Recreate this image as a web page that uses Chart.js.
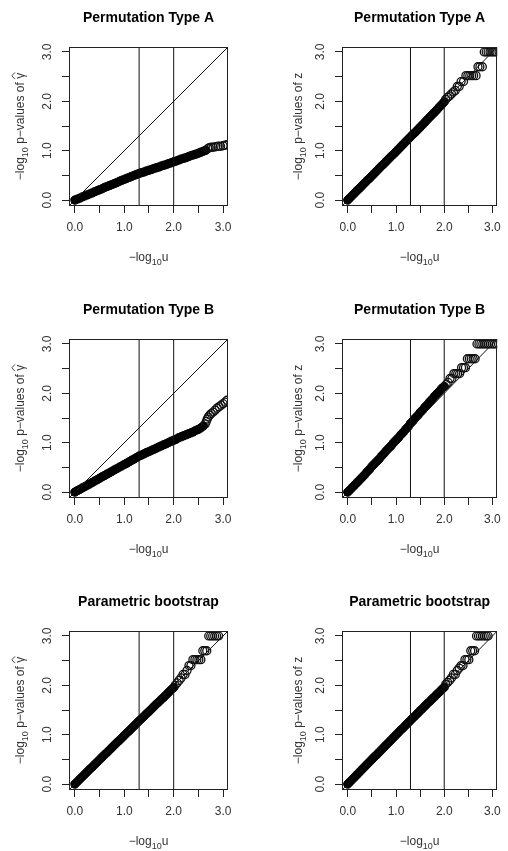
<!DOCTYPE html>
<html>
<head>
<meta charset="utf-8">
<script src="https://cdn.jsdelivr.net/npm/chart.js@4.4.1/dist/chart.umd.min.js"></script>
<style>
  html, body { margin: 0; padding: 0; background: #fff; overflow: hidden; }
  #wrap { position: relative; width: 508px; height: 851px; overflow: hidden; }
  .panel { position: absolute; width: 254px; height: 292px; }
</style>
</head>
<body>
<div id="wrap"></div>
<script>
// --- data ---
const tickValues = [0, 0.5, 1, 1.5, 2, 2.5, 3];
const labeledTicks = [0, 1, 2, 3];
const tickLabels = ['0.0', '1.0', '2.0', '3.0'];
const cutoffs = [1.3, 2.0];
const AX_MIN = -0.12, AX_MAX = 3.1;

// expected quantiles (-log10 u) of the dense part
const qBody = [0.00,0.05,0.10,0.15,0.20,0.25,0.30,0.35,0.40,0.45,0.50,0.55,0.60,0.65,0.70,0.75,0.80,0.85,0.90,0.95,
               1.00,1.05,1.10,1.15,1.20,1.25,1.30,1.35,1.40,1.45,1.50,1.55,1.60,1.65,1.70,1.75,1.80,1.85,1.90,1.95,2.00];

const bodyTypeAGamma = [0.00,0.02,0.04,0.065,0.085,0.105,0.125,0.145,0.17,0.19,0.21,0.23,0.255,0.275,0.295,0.315,0.335,0.355,0.38,0.40,
                        0.42,0.44,0.46,0.48,0.50,0.52,0.54,0.555,0.57,0.59,0.605,0.62,0.64,0.655,0.67,0.69,0.705,0.72,0.74,0.755,0.775];
const bodyTypeAZ = [0.00,0.05,0.10,0.15,0.20,0.245,0.295,0.345,0.395,0.44,0.49,0.54,0.59,0.64,0.69,0.735,0.785,0.835,0.885,0.93,
                    0.98,1.03,1.08,1.13,1.18,1.23,1.28,1.33,1.375,1.425,1.475,1.525,1.575,1.63,1.68,1.73,1.78,1.83,1.885,1.935,1.99];
const bodyTypeBGamma = [0.00,0.03,0.055,0.085,0.11,0.14,0.165,0.195,0.225,0.25,0.28,0.31,0.335,0.365,0.39,0.42,0.45,0.475,0.505,0.53,
                        0.56,0.585,0.615,0.645,0.67,0.70,0.73,0.75,0.775,0.80,0.82,0.845,0.865,0.89,0.915,0.935,0.96,0.98,1.005,1.03,1.05];
const bodyTypeBZ = [0.00,0.05,0.10,0.15,0.20,0.25,0.30,0.35,0.41,0.46,0.52,0.57,0.62,0.67,0.73,0.78,0.84,0.89,0.94,1.00,
                    1.05,1.10,1.16,1.21,1.27,1.32,1.39,1.44,1.50,1.55,1.61,1.66,1.72,1.77,1.83,1.88,1.94,1.99,2.04,2.10,2.14];
const bodyParamGamma = [0.00,0.05,0.10,0.15,0.20,0.25,0.30,0.345,0.395,0.445,0.495,0.545,0.595,0.64,0.69,0.74,0.79,0.84,0.885,0.935,
                        0.985,1.035,1.08,1.13,1.18,1.23,1.28,1.325,1.375,1.425,1.47,1.52,1.57,1.62,1.665,1.715,1.76,1.81,1.86,1.91,1.955];
const bodyParamZ = [0.00,0.05,0.10,0.15,0.20,0.25,0.30,0.35,0.40,0.45,0.50,0.55,0.595,0.645,0.695,0.745,0.795,0.845,0.895,0.945,
                    0.995,1.045,1.095,1.14,1.19,1.24,1.29,1.34,1.385,1.435,1.485,1.53,1.58,1.63,1.675,1.725,1.77,1.82,1.865,1.915,1.96];

// continuation of the dense band (panels where it keeps going past 2)
const upperTypeAGammaX = [2.05,2.10,2.15,2.20,2.25,2.30,2.35,2.40,2.45,2.50,2.55,2.60,2.65];
const upperTypeAGammaY = [0.79,0.81,0.83,0.845,0.86,0.88,0.90,0.915,0.93,0.95,0.97,0.99,1.01];
const upperTypeBGammaX = [2.05,2.10,2.15,2.20,2.25,2.30,2.35,2.40,2.45,2.50,2.55,2.60];
const upperTypeBGammaY = [1.07,1.10,1.12,1.14,1.16,1.18,1.20,1.22,1.25,1.27,1.30,1.34];

// sparse upper tail (open circles)
const tailTypeAGammaX = [2.69,2.72,2.76,2.80,2.85,2.90,2.95,3.00,3.04,3.08];
const tailTypeAGammaY = [1.04,1.06,1.07,1.07,1.08,1.09,1.09,1.10,1.11,1.12];
const tailTypeAZX = [2.03,2.07,2.11,2.15,2.19,2.23,2.27,2.31,2.35,2.40,2.45,2.49,2.53,2.57,2.61,2.66,2.70,2.74,2.79,2.83,2.87,2.91,2.95,2.99,3.03,3.07];
const tailTypeAZY = [2.04,2.08,2.11,2.15,2.19,2.22,2.30,2.30,2.40,2.40,2.52,2.52,2.52,2.52,2.52,2.52,2.70,2.70,2.70,3.00,3.00,3.00,3.00,3.00,3.00,3.00];
const tailTypeBGammaX = [2.64,2.66,2.68,2.70,2.73,2.76,2.80,2.84,2.88,2.92,2.96,3.00,3.04,3.08];
const tailTypeBGammaY = [1.38,1.43,1.48,1.52,1.56,1.59,1.62,1.66,1.70,1.73,1.76,1.79,1.82,1.86];
const tailTypeBZX = [2.04,2.08,2.12,2.16,2.20,2.24,2.28,2.32,2.36,2.40,2.44,2.48,2.52,2.56,2.60,2.64,2.68,2.72,2.76,2.80,2.84,2.88,2.92,2.96,3.00,3.04,3.08];
const tailTypeBZY = [2.18,2.22,2.30,2.30,2.40,2.40,2.40,2.40,2.52,2.52,2.52,2.70,2.70,2.70,2.70,2.70,3.00,3.00,3.00,3.00,3.00,3.00,3.00,3.00,3.00,3.00,3.00];
const tailParamGammaX = [2.03,2.07,2.11,2.15,2.19,2.23,2.27,2.31,2.35,2.39,2.43,2.47,2.51,2.55,2.59,2.63,2.67,2.71,2.75,2.79,2.83,2.87,2.91];
const tailParamGammaY = [2.00,2.05,2.10,2.15,2.22,2.22,2.30,2.40,2.40,2.52,2.52,2.52,2.52,2.52,2.70,2.70,2.70,3.00,3.00,3.00,3.00,3.00,3.00];
const tailParamZX = [2.03,2.07,2.11,2.15,2.19,2.23,2.27,2.31,2.35,2.39,2.43,2.47,2.51,2.55,2.59,2.63,2.67,2.71,2.75,2.79,2.83,2.87,2.91];
const tailParamZY = [2.02,2.06,2.10,2.15,2.22,2.22,2.30,2.35,2.40,2.40,2.52,2.52,2.52,2.70,2.70,2.70,3.00,3.00,3.00,3.00,3.00,3.00,3.00];

const panels = [
  { title: 'Permutation Type A', stat: 'gamma', row: 0, col: 0, body: bodyTypeAGamma, upX: upperTypeAGammaX, upY: upperTypeAGammaY, tailX: tailTypeAGammaX, tailY: tailTypeAGammaY },
  { title: 'Permutation Type A', stat: 'z',     row: 0, col: 1, body: bodyTypeAZ,     upX: [], upY: [], tailX: tailTypeAZX, tailY: tailTypeAZY },
  { title: 'Permutation Type B', stat: 'gamma', row: 1, col: 0, body: bodyTypeBGamma, upX: upperTypeBGammaX, upY: upperTypeBGammaY, tailX: tailTypeBGammaX, tailY: tailTypeBGammaY },
  { title: 'Permutation Type B', stat: 'z',     row: 1, col: 1, body: bodyTypeBZ,     upX: [], upY: [], tailX: tailTypeBZX, tailY: tailTypeBZY },
  { title: 'Parametric bootstrap', stat: 'gamma', row: 2, col: 0, body: bodyParamGamma, upX: [], upY: [], tailX: tailParamGammaX, tailY: tailParamGammaY },
  { title: 'Parametric bootstrap', stat: 'z',     row: 2, col: 1, body: bodyParamZ,     upX: [], upY: [], tailX: tailParamZX, tailY: tailParamZY }
];

// --- layout ---
const W = 254, H = 292;
const FONT = '"Liberation Sans", Arial, Helvetica, sans-serif';
const boxLeft = [69, 88], boxTop = 47, boxBottom = 206;
const yTitleX = [20, 44];
Chart.defaults.font.family = FONT;

function drawRich(ctx, parts, cx, cy, angle, size, color) {
  ctx.save();
  ctx.translate(cx, cy);
  ctx.rotate(angle);
  ctx.fillStyle = color;
  ctx.strokeStyle = color;
  ctx.textBaseline = 'alphabetic';
  ctx.textAlign = 'left';
  const main = size + 'px ' + FONT;
  const sub = (size * 0.75).toFixed(1) + 'px ' + FONT;
  let total = 0;
  const widths = parts.map(p => { ctx.font = p.sub ? sub : main; const w = ctx.measureText(p.t).width; total += w; return w; });
  let x = -total / 2;
  const base = size * 0.36;
  parts.forEach((p, i) => {
    ctx.font = p.sub ? sub : main;
    ctx.fillText(p.t, x, p.sub ? base + size * 0.28 : base);
    if (p.hat) {
      const mx = x + widths[i] / 2;
      ctx.lineWidth = 0.9;
      ctx.beginPath();
      ctx.moveTo(mx - 3.4, base - size * 0.78);
      ctx.lineTo(mx, base - size * 1.04);
      ctx.lineTo(mx + 3.4, base - size * 0.78);
      ctx.stroke();
    }
    x += widths[i];
  });
  ctx.restore();
}

const decor = {
  id: 'decor',
  afterDraw(chart, args, opts) {
    const { ctx, chartArea: a, scales } = chart;
    const p = opts.panel;
    ctx.save();
    // box
    ctx.strokeStyle = '#222';
    ctx.lineWidth = 1;
    ctx.strokeRect(Math.round(a.left) + 0.5, Math.round(a.top) + 0.5, Math.round(a.right - a.left) - 1, Math.round(a.bottom - a.top) - 1);
    // title
    const cx = (a.left + a.right) / 2;
    ctx.fillStyle = '#000';
    ctx.font = 'bold 14px ' + FONT;
    ctx.textAlign = 'center';
    ctx.textBaseline = 'middle';
    ctx.fillText(p.title, cx, 18);
    // rotated y tick labels
    ctx.fillStyle = '#333';
    ctx.font = '12px ' + FONT;
    labeledTicks.forEach((v, i) => {
      const py = scales.y.getPixelForValue(v);
      ctx.save();
      ctx.translate(a.left - 21, py);
      ctx.rotate(-Math.PI / 2);
      ctx.fillText(tickLabels[i], 0, 0);
      ctx.restore();
    });
    ctx.restore();
    // axis titles
    drawRich(ctx, [{ t: '\u2212log' }, { t: '10', sub: true }, { t: 'u' }], cx, 257, 0, 12, '#333');
    const yParts = [{ t: '\u2212log' }, { t: '10', sub: true }, { t: ' p\u2212values of ' }];
    yParts.push(p.stat === 'gamma' ? { t: '\u03b3', hat: true } : { t: 'z' });
    drawRich(ctx, yParts, yTitleX[p.col], (a.top + a.bottom) / 2, -Math.PI / 2, 12, '#333');
  }
};

const wrap = document.getElementById('wrap');

panels.forEach(p => {
  const div = document.createElement('div');
  div.className = 'panel';
  div.style.left = (p.col * W) + 'px';
  div.style.top = (p.row * H) + 'px';
  const canvas = document.createElement('canvas');
  canvas.width = W;
  canvas.height = H;
  div.appendChild(canvas);
  wrap.appendChild(div);

  const bodyPts = qBody.map((x, i) => ({ x, y: p.body[i] })).concat(p.upX.map((x, i) => ({ x, y: p.upY[i] })));
  const tailPts = p.tailX.map((x, i) => ({ x, y: p.tailY[i] }));
  const lineDs = pts => ({ type: 'line', data: pts, borderColor: '#111', borderWidth: 1, pointRadius: 0, fill: false, tension: 0 });

  const left = boxLeft[p.col];
  new Chart(canvas, {
    type: 'scatter',
    data: {
      datasets: [
        lineDs([{ x: AX_MIN, y: AX_MIN }, { x: AX_MAX, y: AX_MAX }]),
        ...cutoffs.map(c => lineDs([{ x: c, y: AX_MIN }, { x: c, y: AX_MAX }])),
        { data: tailPts, pointRadius: 4, pointBorderWidth: 1.3, borderColor: '#111', backgroundColor: 'rgba(0,0,0,0)', clip: 0 },
        { data: bodyPts, pointRadius: 4.2, pointBorderWidth: 1, borderColor: '#000', backgroundColor: '#000', clip: 0 }
      ]
    },
    options: {
      responsive: false,
      animation: false,
      events: [],
      layout: { padding: { left: left - 8, right: W - (left + 159), top: boxTop, bottom: H - boxBottom - 35 } },
      plugins: { legend: { display: false }, tooltip: { enabled: false }, decor: { panel: p } },
      scales: {
        x: {
          type: 'linear', min: AX_MIN, max: AX_MAX,
          afterBuildTicks: s => { s.ticks = tickValues.map(v => ({ value: v })); },
          afterFit: s => { s.height = 35; },
          ticks: {
            autoSkip: false, maxRotation: 0, minRotation: 0, padding: 7, color: '#333', font: { size: 12 },
            callback: v => { const i = labeledTicks.indexOf(v); return i >= 0 ? tickLabels[i] : ''; }
          },
          grid: { drawOnChartArea: false, drawTicks: true, tickLength: 7, color: '#222', lineWidth: 1 },
          border: { display: false }
        },
        y: {
          type: 'linear', min: AX_MIN, max: AX_MAX,
          afterBuildTicks: s => { s.ticks = tickValues.map(v => ({ value: v })); },
          afterFit: s => { s.width = 8; },
          ticks: { display: false },
          grid: { drawOnChartArea: false, drawTicks: true, tickLength: 7, color: '#222', lineWidth: 1 },
          border: { display: false }
        }
      }
    },
    plugins: [decor]
  });
});
</script>
</body>
</html>
